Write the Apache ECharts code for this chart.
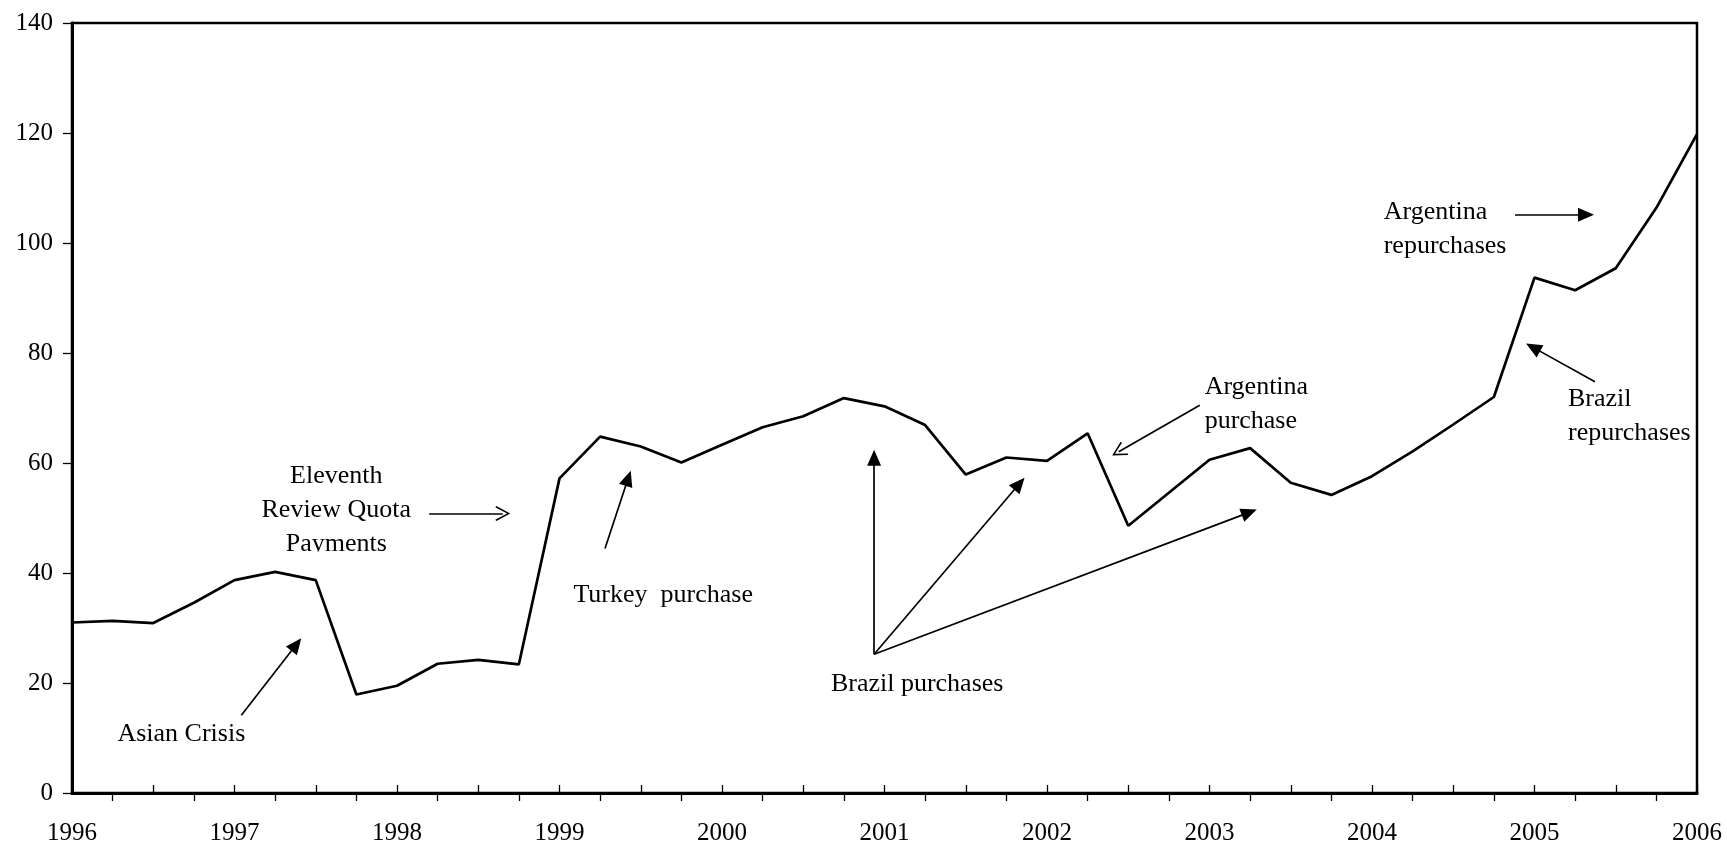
<!DOCTYPE html>
<html><head><meta charset="utf-8">
<script src="https://cdn.jsdelivr.net/npm/echarts@6/dist/echarts.min.js"></script>
<style>html,body{margin:0;padding:0;background:#fff}#c{width:1727px;height:846px}</style>
</head><body><div id="c"></div>
<script>
// Quarter positions (in years) and the plotted series
const quarters = [
  1996.00, 1996.25, 1996.50, 1996.75,
  1997.00, 1997.25, 1997.50, 1997.75,
  1998.00, 1998.25, 1998.50, 1998.75,
  1999.00, 1999.25, 1999.50, 1999.75,
  2000.00, 2000.25, 2000.50, 2000.75,
  2001.00, 2001.25, 2001.50, 2001.75,
  2002.00, 2002.25, 2002.50, 2002.75,
  2003.00, 2003.25, 2003.50, 2003.75,
  2004.00, 2004.25, 2004.50, 2004.75,
  2005.00, 2005.25, 2005.50, 2005.75,
  2006.00
];
const values = [
  31.0, 31.3, 30.9, 34.6,
  38.7, 40.2, 38.7, 17.9,
  19.5, 23.5, 24.2, 23.4,
  57.2, 64.8, 63.0, 60.1,
  63.3, 66.5, 68.5, 71.8,
  70.3, 66.9, 57.9, 61.0,
  60.4, 65.4, 48.6, 54.6,
  60.6, 62.7, 56.4, 54.2,
  57.6, 62.1, 67.0, 72.0,
  93.7, 91.4, 95.4, 106.4,
  119.8
];
const yearTicks = [1996, 1997, 1998, 1999, 2000, 2001, 2002, 2003, 2004, 2005, 2006];
const oddQuarterTicks = [];
for (let y = 1996; y < 2006; y++) { oddQuarterTicks.push(y + 0.25, y + 0.75); }

// Annotations (data coordinates)
const notes = [
  {text: 'Eleventh\nReview Quota\nPayments', x: 1997.626, y: 51.36, align: 'center', clip: true},
  {text: 'Asian Crisis', x: 1996.673, y: 10.78, align: 'center'},
  {text: 'Turkey  purchase', x: 1999.638, y: 35.93, align: 'center'},
  {text: 'Brazil purchases', x: 2001.201, y: 19.78, align: 'center'},
  {text: 'Argentina\npurchase', x: 2002.970, y: 70.77, align: 'left'},
  {text: 'Argentina\nrepurchases', x: 2004.072, y: 102.58, align: 'left'},
  {text: 'Brazil\nrepurchases', x: 2005.206, y: 68.50, align: 'left'}
];
// arrow tail -> tip (data coordinates)
const arrows = [
  {from: [1998.198, 50.81], to: [1998.697, 50.81], head: 'open'},
  {from: [1997.042, 14.15], to: [1997.411, 28.13], head: 'filled'},
  {from: [1999.280, 44.46], to: [1999.438, 58.61], head: 'filled'},
  {from: [2000.936, 25.22], to: [2000.936, 62.42], head: 'filled'},
  {from: [2000.936, 25.22], to: [2001.862, 57.34], head: 'filled'},
  {from: [2000.936, 25.22], to: [2003.291, 51.54], head: 'filled'},
  {from: [2002.940, 70.48], to: [2002.401, 61.37], head: 'open'},
  {from: [2004.880, 105.12], to: [2005.366, 105.12], head: 'filled'},
  {from: [2005.372, 74.76], to: [2004.948, 81.73], head: 'filled'}
];

const FONT = '"Liberation Serif","Times New Roman",serif';
const openHead = 'path://M0,0 L10,12 L8.3,13 L0,2.8 L-8.3,13 L-10,12 Z';
const FILLED_SIZE = [14, 16];
const OPEN_SIZE = [15, 15];

const chart = echarts.init(document.getElementById('c'), null, {renderer: 'canvas'});

const option = {
  animation: false,
  backgroundColor: '#fff',
  grid: {left: 72, right: 30, top: 23, bottom: 52, show: true, borderColor: '#000', borderWidth: 2.5, backgroundColor: 'transparent'},
  xAxis: [
    {
      type: 'value', min: 1996, max: 2006, interval: 0.5,
      axisLine: {show: true, onZero: false, lineStyle: {color: '#000', width: 3}},
      axisTick: {show: true, inside: true, length: 8, lineStyle: {color: '#000', width: 1.3}},
      axisLabel: {
        show: true, margin: 28, color: '#000', fontSize: 25, fontFamily: FONT,
        showMinLabel: true, showMaxLabel: true,
        formatter: v => (yearTicks.indexOf(v) >= 0 ? String(v) : '')
      },
      splitLine: {show: false}
    },
    {
      type: 'value', min: 1996, max: 2006, position: 'bottom', offset: 0,
      axisLine: {show: false},
      axisTick: {show: true, inside: false, length: 8, customValues: oddQuarterTicks, lineStyle: {color: '#000', width: 1.3}},
      axisLabel: {show: false},
      splitLine: {show: false}
    }
  ],
  yAxis: {
    type: 'value', min: 0, max: 140, interval: 20,
    axisLine: {show: true, onZero: false, lineStyle: {color: '#000', width: 3}},
    axisTick: {show: true, inside: false, length: 9, lineStyle: {color: '#000', width: 1.3}},
    axisLabel: {color: '#000', fontSize: 25, fontFamily: FONT, margin: 19},
    splitLine: {show: false}
  },
  series: [{
    id: 'main',
    type: 'line',
    data: quarters.map((q, i) => [q, values[i]]),
    symbol: 'none',
    clip: false,
    lineStyle: {color: '#000', width: 2.7},
    silent: true
  }]
};
chart.setOption(option);

const finder = {xAxisIndex: 0, yAxisIndex: 0};

function buildArrows() {
  return arrows.map(a => {
    const size = a.head === 'open' ? OPEN_SIZE : FILLED_SIZE;
    const p0 = chart.convertToPixel(finder, a.from);
    const p1 = chart.convertToPixel(finder, a.to);
    const dx = p1[0] - p0[0], dy = p1[1] - p0[1];
    const len = Math.sqrt(dx * dx + dy * dy);
    const back = size[1] / 2;
    const end = chart.convertFromPixel(finder, [p1[0] - dx / len * back, p1[1] - dy / len * back]);
    return [
      {coord: a.from, symbol: 'none'},
      a.head === 'open'
        ? {coord: end, symbol: openHead, symbolSize: size}
        : {coord: end, symbol: 'triangle', symbolSize: size}
    ];
  });
}

function buildNotes() {
  const g = [];
  notes.forEach(n => {
    const p = chart.convertToPixel(finder, [n.x, n.y]);
    const lines = n.text.split('\n').length;
    const lh = 34;
    g.push({
      type: 'text', x: p[0], y: p[1], silent: true, z: 10,
      style: {text: n.text, fill: '#000', fontSize: 26, fontFamily: FONT, lineHeight: lh,
              align: n.align, verticalAlign: 'middle', textAlign: n.align, textVerticalAlign: 'middle'}
    });
    if (n.clip) {
      const bottomLineCenter = p[1] + lh * (lines - 1) / 2;
      g.push({
        type: 'rect', silent: true, z: 11,
        shape: {x: p[0] - 70, y: bottomLineCenter + 7, width: 140, height: 12},
        style: {fill: '#fff'}
      });
    }
  });
  return g;
}

chart.setOption({
  series: [{
    id: 'main',
    markLine: {
      silent: true,
      animation: false,
      label: {show: false},
      emphasis: {disabled: true},
      lineStyle: {color: '#000', width: 1.7, type: 'solid'},
      data: buildArrows()
    }
  }],
  graphic: buildNotes()
});
</script>
</body></html>
